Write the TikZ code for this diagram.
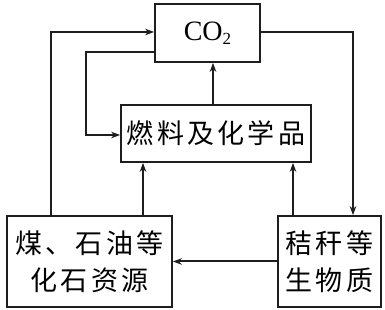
\documentclass[tikz,border=0pt]{standalone}
\usepackage{fontspec}
\usepackage{tikz}
\usetikzlibrary{arrows.meta,positioning,calc}
\setmainfont{Liberation Serif}
\newfontfamily\cjk[LetterSpace=12]{Noto Sans CJK SC}
\definecolor{inkgray}{RGB}{30,30,30}

\begin{document}
\begin{tikzpicture}[x=1pt,y=1pt,
 box/.style={draw=inkgray,line width=1.7pt,align=center,inner sep=0pt,font=\cjk\fontsize{27}{37}\selectfont},
 arr/.style={-{Stealth[length=9pt,width=6.5pt]},line width=2pt,draw=inkgray}]
\useasboundingbox (0,0) rectangle (385,310);
\node[box,minimum width=105pt,minimum height=58pt,font=\fontsize{28}{30}\selectfont] (co2) at (207.5,277) {CO\raisebox{-4pt}{\fontsize{17}{17}\selectfont 2}};
\node[box,minimum width=190pt,minimum height=57pt] (fuel) at (216,176.5) {燃料及化学品};
\node[box,minimum width=165pt,minimum height=91pt] (fossil) at (89.5,48.5) {煤、石油等\\化石资源};
\node[box,minimum width=103pt,minimum height=91pt] (straw) at (329.5,48.5) {秸秆等\\生物质};
\draw[arr] ([xshift=-38.5pt]fossil.north) |- ([yshift=1pt]co2.west);
\draw[arr] ([yshift=-19pt]co2.west) -- ++(-68,0) |- ([yshift=-1.5pt]fuel.west);
\draw[arr] ([xshift=-3pt]fuel.north) -- ([xshift=-3pt]fuel.north |- co2.south);
\draw[arr] ([yshift=1pt]co2.east) -| ([xshift=23.5pt]straw.north);
\draw[arr] ([xshift=53.5pt]fossil.north) -- ([xshift=53.5pt]fossil.north |- fuel.south);
\draw[arr] ([xshift=-36.5pt]straw.north) -- ([xshift=-36.5pt]straw.north |- fuel.south);
\draw[arr] (straw.west) -- (fossil.east);
\end{tikzpicture}
\end{document}
